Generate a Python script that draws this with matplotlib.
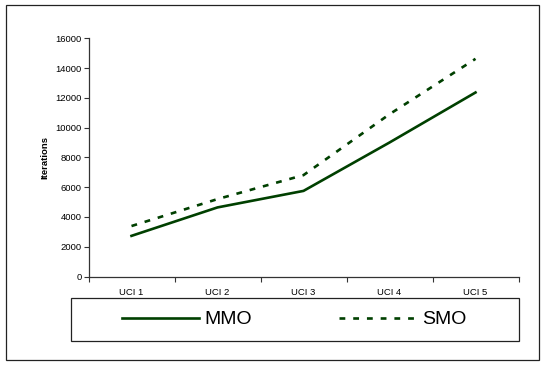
import matplotlib
matplotlib.use("Agg")
import matplotlib.pyplot as plt
from matplotlib.patches import Rectangle
from matplotlib.lines import Line2D
from matplotlib.ticker import FixedLocator, NullFormatter

plt.rcParams["font.family"] = ["Liberation Sans", "DejaVu Sans"]

DATASETS = ["UCI 1", "UCI 2", "UCI 3", "UCI 4", "UCI 5"]
MMO_ITERS = [2730, 4640, 5750, 9000, 12360]
SMO_ITERS = [3390, 5200, 6810, 10900, 14620]
Y_TICKS = [0, 2000, 4000, 6000, 8000, 10000, 12000, 14000, 16000]

LINE_COLOR = "#004000"
W, H = 544, 365

fig = plt.figure(figsize=(W / 100, H / 100), dpi=100)

# outer chart-area border
fig.patches.append(Rectangle((6 / W, 1 - 360 / H), 533 / W, 355 / H,
                             transform=fig.transFigure, fill=False,
                             edgecolor="#222222", linewidth=0.9))

ax = fig.add_axes([88.5 / W, 1 - 276.5 / H, 430 / W, 238.2 / H])
x = list(range(1, len(DATASETS) + 1))
ax.plot(x, MMO_ITERS, color=LINE_COLOR, linewidth=1.9, label="MMO")
ax.plot(x, SMO_ITERS, color=LINE_COLOR, linewidth=1.9,
        linestyle=(0, (2.2, 3.0)), label="SMO")

ax.set_xlim(0.5, len(DATASETS) + 0.5)
ax.set_ylim(0, 16000)
ax.set_yticks(Y_TICKS)
ax.set_yticklabels([str(v) for v in Y_TICKS], fontsize=6.8)

# category labels sit between the tick marks
ax.xaxis.set_major_locator(FixedLocator([i + 0.5 for i in range(len(DATASETS) + 1)]))
ax.xaxis.set_major_formatter(NullFormatter())
ax.xaxis.set_minor_locator(FixedLocator(x))
ax.set_xticklabels(DATASETS, minor=True, fontsize=6.8)
ax.tick_params(axis="x", which="minor", length=0, pad=8.5)
ax.tick_params(axis="x", which="major", length=3.5, width=0.8, color="#333333")
ax.tick_params(axis="y", length=3.5, width=0.8, color="#333333", pad=1.5)

for side in ("top", "right"):
    ax.spines[side].set_visible(False)
for side in ("left", "bottom"):
    ax.spines[side].set_linewidth(0.9)
    ax.spines[side].set_color("#333333")

ax.set_ylabel("Iterations", fontsize=6.8, fontweight="bold", labelpad=4)

# legend box below the plot
fig.patches.append(Rectangle((70.7 / W, 1 - 341 / H), 448.3 / W, 43 / H,
                             transform=fig.transFigure, fill=False,
                             edgecolor="#222222", linewidth=0.9))
handles = [Line2D([], [], color=LINE_COLOR, linewidth=1.9),
           Line2D([], [], color=LINE_COLOR, linewidth=1.9, linestyle=(0, (2.2, 3.0)))]
fig.legend(handles, ["MMO", "SMO"], loc="center", ncol=2,
           bbox_to_anchor=(294 / W, 1 - 319.5 / H), frameon=False,
           fontsize=14, handlelength=4.0, handletextpad=0.25, columnspacing=4.5)

fig.savefig("out.png", dpi=100)
